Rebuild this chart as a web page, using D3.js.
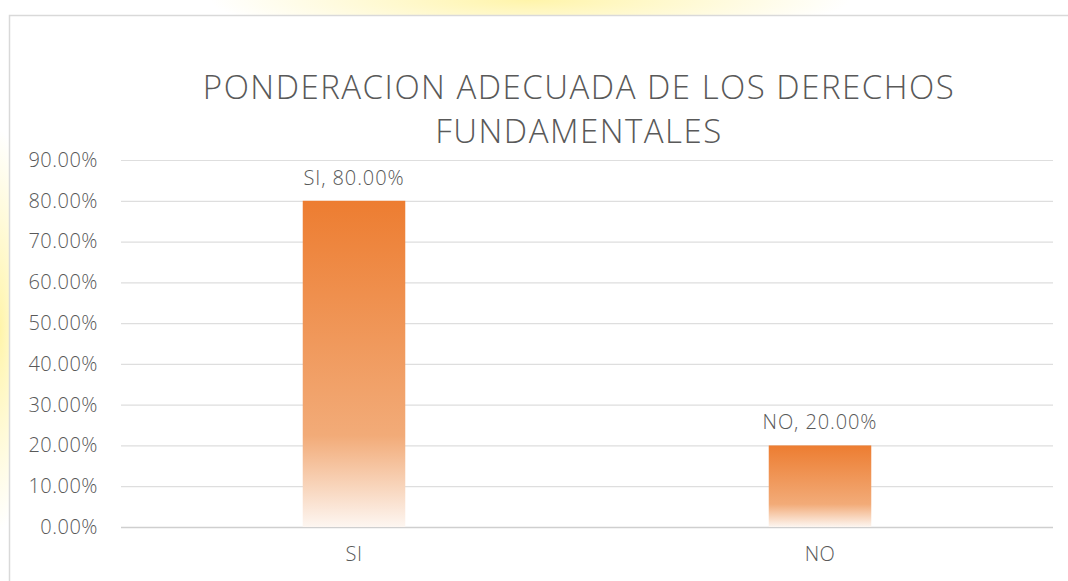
<!DOCTYPE html>
<html>
<head>
<meta charset="utf-8">
<script src="https://cdn.jsdelivr.net/npm/d3@7"></script>
<style>
  body { margin: 0; background: #fff; }
  svg { display: block; font-family: "Open Sans", "Lato", sans-serif; }
</style>
</head>
<body>
<div id="chart"></div>
<script>
var categories = ["SI", "NO"];
var values = [0.80, 0.20];
var yTicks = [0, 0.1, 0.2, 0.3, 0.4, 0.5, 0.6, 0.7, 0.8, 0.9];
var titleLines = ["PONDERACION ADECUADA DE LOS DERECHOS", "FUNDAMENTALES"];

var W = 1068, H = 581;
var margin = {top: 160, right: 15, bottom: 54, left: 121},
    width = W - margin.left - margin.right,
    height = H - margin.top - margin.bottom;

var svg = d3.select("#chart").append("svg")
    .attr("width", W)
    .attr("height", H);

var defs = svg.append("defs");

// faint yellow watermark glow behind the chart box
var glow = defs.append("radialGradient").attr("id", "glow");
glow.append("stop").attr("offset", "0%").attr("stop-color", "#fff3a0").attr("stop-opacity", 0.9);
glow.append("stop").attr("offset", "100%").attr("stop-color", "#fff3a0").attr("stop-opacity", 0);
svg.append("ellipse").attr("cx", 530).attr("cy", 0).attr("rx", 320).attr("ry", 40).attr("fill", "url(#glow)");
svg.append("ellipse").attr("cx", 0).attr("cy", 330).attr("rx", 30).attr("ry", 200).attr("fill", "url(#glow)");

// chart box
svg.append("rect")
    .attr("x", 9.5).attr("y", 15.5)
    .attr("width", W).attr("height", H)
    .attr("fill", "#fff")
    .attr("stroke", "#d9d9d9")
    .attr("stroke-width", 1.5);

// title
svg.append("text")
    .attr("text-anchor", "middle")
    .attr("fill", "#595959")
    .attr("font-size", 33)
    .attr("font-weight", 300)
    .attr("letter-spacing", 1.5)
    .selectAll("tspan")
    .data(titleLines).enter()
    .append("tspan")
    .attr("x", 579)
    .attr("y", function(d, i) { return 99 + i * 44; })
    .text(function(d) { return d; });

var g = svg.append("g").attr("transform", "translate(" + margin.left + "," + margin.top + ")");

var xScale = d3.scaleBand().domain(categories).range([0, width]).paddingInner(0.78).paddingOuter(0.39);
var yScale = d3.scaleLinear().domain([0, 0.9]).range([height, 0]);

// gridlines + y labels
var yAxis = d3.axisLeft(yScale)
    .tickValues(yTicks)
    .tickFormat(function(d) { return (d * 100).toFixed(2) + "%"; })
    .tickSize(-width)
    .tickPadding(23);

var gy = g.append("g").attr("class", "y axis").call(yAxis);
gy.select(".domain").remove();
gy.selectAll(".tick line")
    .attr("stroke", function(d) { return d === 0 ? "#cfcfcf" : "#dedede"; })
    .attr("stroke-width", function(d) { return d === 0 ? 1.5 : 1.2; });
gy.selectAll(".tick text")
    .attr("fill", "#595959")
    .attr("font-size", 20)
    .attr("letter-spacing", 0.5)
    .attr("font-family", "\"Open Sans\", sans-serif")
    .attr("font-weight", 300);

// bar gradient
var grad = defs.append("linearGradient")
    .attr("id", "barGrad")
    .attr("x1", 0).attr("y1", 0).attr("x2", 0).attr("y2", 1);
grad.append("stop").attr("offset", "0%").attr("stop-color", "#ed7d31");
grad.append("stop").attr("offset", "72%").attr("stop-color", "#f2ab78");
grad.append("stop").attr("offset", "100%").attr("stop-color", "#fdf6f1");

g.selectAll(".bar")
    .data(values).enter()
    .append("rect")
    .attr("class", "bar")
    .attr("x", function(d, i) { return xScale(categories[i]); })
    .attr("y", function(d) { return yScale(d); })
    .attr("width", xScale.bandwidth())
    .attr("height", function(d) { return height - yScale(d); })
    .attr("fill", "url(#barGrad)");

// data labels
g.selectAll(".label")
    .data(values).enter()
    .append("text")
    .attr("class", "label")
    .attr("text-anchor", "middle")
    .attr("fill", "#595959")
    .attr("font-size", 20)
    .attr("letter-spacing", 0.9)
    .attr("font-weight", 300)
    .attr("x", function(d, i) { return xScale(categories[i]) + xScale.bandwidth() / 2; })
    .attr("y", function(d) { return yScale(d) - 16; })
    .text(function(d, i) { return categories[i] + ", " + (d * 100).toFixed(2) + "%"; });

// x axis
var xAxis = d3.axisBottom(xScale).tickSize(0).tickPadding(20);
var gx = g.append("g").attr("class", "x axis")
    .attr("transform", "translate(0," + height + ")")
    .call(xAxis);
gx.select(".domain").remove();
gx.selectAll(".tick text")
    .attr("fill", "#595959")
    .attr("font-size", 20)
    .attr("letter-spacing", 0.5)
    .attr("font-family", "\"Open Sans\", sans-serif")
    .attr("font-weight", 300);
</script>
</body>
</html>
